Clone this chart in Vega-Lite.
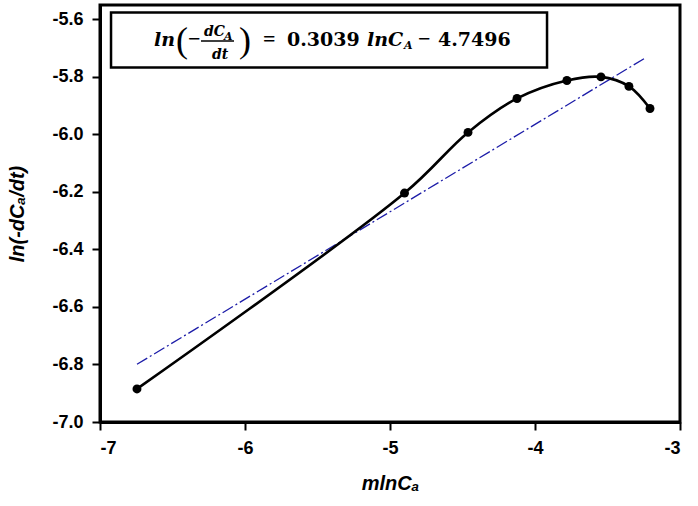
{
  "$schema": "https://vega.github.io/schema/vega-lite/v6.json",
  "width": 580,
  "height": 417,
  "autosize": {"type": "none"},
  "padding": {"left": 100, "top": 5, "right": 18, "bottom": 84},
  "background": "white",
  "config": {
    "view": {"stroke": "black", "strokeWidth": 3},
    "axis": {"grid": false}
  },
  "datasets": {
    "obs": [
      {"x": -6.745, "y": -6.885},
      {"x": -4.9, "y": -6.204},
      {"x": -4.462, "y": -5.993},
      {"x": -4.124, "y": -5.875},
      {"x": -3.78, "y": -5.8125},
      {"x": -3.545, "y": -5.8},
      {"x": -3.352, "y": -5.833},
      {"x": -3.207, "y": -5.91}
    ],
    "fit": [
      {"x": -6.745, "y": -6.7994},
      {"x": -3.24, "y": -5.7342}
    ],
    "box": [{"x": -6.924, "x2": -3.917, "y": -5.576, "y2": -5.767}],
    "bar": [{"x": -6.3034, "x2": -6.0759, "y": -5.6752}],
    "upright": [
      {"x": -5.7103, "y": -5.6926, "t": "0.3039"},
      {"x": -4.669, "y": -5.6926, "t": "4.7496"}
    ],
    "ops": [
      {"x": -6.3931, "y": -5.6926, "t": "−"},
      {"x": -5.8759, "y": -5.6926, "t": "="},
      {"x": -4.8069, "y": -5.6926, "t": "−"}
    ],
    "italic": [
      {"x": -6.6276, "y": -5.6926, "t": "ln"},
      {"x": -5.1586, "y": -5.6926, "t": "lnC"}
    ],
    "small": [
      {"x": -6.2828, "y": -5.6579, "t": "dC"},
      {"x": -6.2276, "y": -5.7378, "t": "dt"}
    ],
    "sub": [
      {"x": -6.1448, "y": -5.6718, "t": "A"},
      {"x": -4.9034, "y": -5.7031, "t": "A"}
    ],
    "paren": [
      {"x": -6.4759, "y": -5.7135, "t": "("},
      {"x": -6.0414, "y": -5.7135, "t": ")"}
    ]
  },
  "layer": [
    {
      "data": {"name": "fit"},
      "mark": {"type": "line", "color": "#1c1ca8", "strokeWidth": 1.3, "strokeDash": [12, 3, 2, 3]},
      "encoding": {
        "x": {
          "field": "x", "type": "quantitative",
          "scale": {"domain": [-7, -3], "nice": false, "zero": false},
          "axis": {
            "values": [-7, -6, -5, -4, -3],
            "labelExpr": "replace(format(datum.value, 'd'), '−', '-')",
            "title": "mlnCₐ",
            "titleFont": "Liberation Sans", "titleFontSize": 20, "titleFontWeight": "bold", "titleFontStyle": "italic",
            "titleColor": "black", "titlePadding": 16,
            "labelFont": "Liberation Sans", "labelFontSize": 18, "labelFontWeight": "bold", "labelColor": "black",
            "labelPadding": 9,
            "tickSize": 8, "tickWidth": 2, "tickColor": "black",
            "domainColor": "black", "domainWidth": 3
          }
        },
        "y": {
          "field": "y", "type": "quantitative",
          "scale": {"domain": [-7, -5.55], "nice": false, "zero": false},
          "axis": {
            "values": [-7, -6.8, -6.6, -6.4, -6.2, -6, -5.8, -5.6],
            "labelExpr": "replace(format(datum.value, '.1f'), '−', '-')",
            "title": "ln(-dCₐ/dt)",
            "titleFont": "Liberation Sans", "titleFontSize": 20, "titleFontWeight": "bold", "titleFontStyle": "italic",
            "titleColor": "black", "titlePadding": 24,
            "labelFont": "Liberation Sans", "labelFontSize": 18, "labelFontWeight": "bold", "labelColor": "black",
            "labelPadding": 9,
            "tickSize": 8, "tickWidth": 2, "tickColor": "black",
            "domainColor": "black", "domainWidth": 3
          }
        }
      }
    },
    {
      "data": {"name": "obs"},
      "mark": {"type": "line", "color": "black", "strokeWidth": 2.6, "interpolate": "catmull-rom"},
      "encoding": {
        "x": {"field": "x", "type": "quantitative"},
        "y": {"field": "y", "type": "quantitative"}
      }
    },
    {
      "data": {"name": "obs"},
      "mark": {"type": "point", "filled": true, "color": "black", "size": 80, "opacity": 1},
      "encoding": {
        "x": {"field": "x", "type": "quantitative"},
        "y": {"field": "y", "type": "quantitative"}
      }
    },
    {
      "data": {"name": "box"},
      "mark": {"type": "rect", "fill": "white", "stroke": "black", "strokeWidth": 2.5},
      "encoding": {
        "x": {"field": "x", "type": "quantitative"},
        "x2": {"field": "x2"},
        "y": {"field": "y", "type": "quantitative"},
        "y2": {"field": "y2"}
      }
    },
    {
      "data": {"name": "bar"},
      "mark": {"type": "rule", "color": "black", "strokeWidth": 1.5},
      "encoding": {
        "x": {"field": "x", "type": "quantitative"},
        "x2": {"field": "x2"},
        "y": {"field": "y", "type": "quantitative"}
      }
    },
    {
      "data": {"name": "upright"},
      "mark": {"type": "text", "align": "left", "baseline": "alphabetic", "font": "DejaVu Serif", "fontSize": 19, "fontWeight": "bold", "color": "black"},
      "encoding": {
        "x": {"field": "x", "type": "quantitative"},
        "y": {"field": "y", "type": "quantitative"},
        "text": {"field": "t"}
      }
    },
    {
      "data": {"name": "ops"},
      "mark": {"type": "text", "align": "left", "baseline": "alphabetic", "font": "Liberation Serif", "fontSize": 22, "fontWeight": "bold", "color": "black"},
      "encoding": {
        "x": {"field": "x", "type": "quantitative"},
        "y": {"field": "y", "type": "quantitative"},
        "text": {"field": "t"}
      }
    },
    {
      "data": {"name": "italic"},
      "mark": {"type": "text", "align": "left", "baseline": "alphabetic", "font": "DejaVu Serif", "fontSize": 19, "fontWeight": "bold", "fontStyle": "italic", "color": "black"},
      "encoding": {
        "x": {"field": "x", "type": "quantitative"},
        "y": {"field": "y", "type": "quantitative"},
        "text": {"field": "t"}
      }
    },
    {
      "data": {"name": "small"},
      "mark": {"type": "text", "align": "left", "baseline": "alphabetic", "font": "DejaVu Serif", "fontSize": 14, "fontWeight": "bold", "fontStyle": "italic", "color": "black"},
      "encoding": {
        "x": {"field": "x", "type": "quantitative"},
        "y": {"field": "y", "type": "quantitative"},
        "text": {"field": "t"}
      }
    },
    {
      "data": {"name": "sub"},
      "mark": {"type": "text", "align": "left", "baseline": "alphabetic", "font": "DejaVu Serif", "fontSize": 11, "fontWeight": "bold", "fontStyle": "italic", "color": "black"},
      "encoding": {
        "x": {"field": "x", "type": "quantitative"},
        "y": {"field": "y", "type": "quantitative"},
        "text": {"field": "t"}
      }
    },
    {
      "data": {"name": "paren"},
      "mark": {"type": "text", "align": "left", "baseline": "alphabetic", "font": "Liberation Serif", "fontSize": 36, "color": "black"},
      "encoding": {
        "x": {"field": "x", "type": "quantitative"},
        "y": {"field": "y", "type": "quantitative"},
        "text": {"field": "t"}
      }
    }
  ]
}
